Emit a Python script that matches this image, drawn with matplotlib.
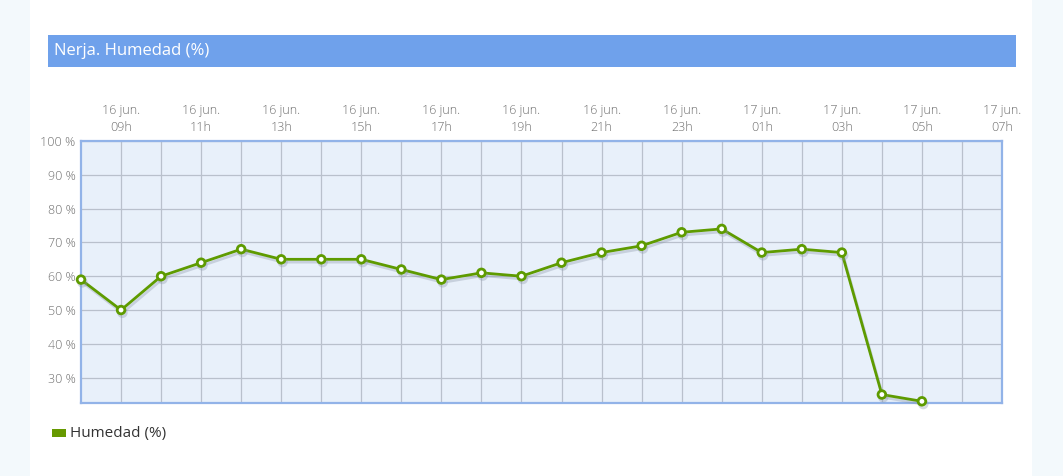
import matplotlib
matplotlib.use("Agg")
import matplotlib.pyplot as plt
import matplotlib.patheffects as pe
from matplotlib.patches import Rectangle
from matplotlib.ticker import FixedLocator

plt.rcParams['font.family'] = ['Open Sans', 'DejaVu Sans']

title = "Nerja. Humedad (%)"
series_name = "Humedad (%)"
hours = ["16 jun.\n08h", "16 jun.\n09h", "16 jun.\n10h", "16 jun.\n11h", "16 jun.\n12h",
         "16 jun.\n13h", "16 jun.\n14h", "16 jun.\n15h", "16 jun.\n16h", "16 jun.\n17h",
         "16 jun.\n18h", "16 jun.\n19h", "16 jun.\n20h", "16 jun.\n21h", "16 jun.\n22h",
         "16 jun.\n23h", "17 jun.\n00h", "17 jun.\n01h", "17 jun.\n02h", "17 jun.\n03h",
         "17 jun.\n04h", "17 jun.\n05h", "17 jun.\n06h", "17 jun.\n07h"]
humidity = [59, 50, 60, 64, 68, 65, 65, 65, 62, 59, 61, 60, 64, 67, 69, 73, 74, 67, 68, 67, 25, 23]
y_ticks = [30, 40, 50, 60, 70, 80, 90, 100]

W, H = 1063, 476
fig = plt.figure(figsize=(W / 100, H / 100), dpi=100)
fig.patch.set_facecolor("white")

# faint decorative edges
fig.patches.append(Rectangle((0, 0), 30 / W, 1, transform=fig.transFigure,
                             facecolor="#f3f9fc", edgecolor="none", zorder=0))
fig.patches.append(Rectangle((1032 / W, 0), 31 / W, 1, transform=fig.transFigure,
                             facecolor="#f3f9fc", edgecolor="none", zorder=0))

# title bar
fig.patches.append(Rectangle((48 / W, 1 - 67 / H), (1016 - 48) / W, 32 / H,
                             transform=fig.transFigure, facecolor="#6fa1eb",
                             edgecolor="none", zorder=1))
fig.text(54 / W, 1 - 51 / H, title, color="white", fontsize=12,
         va="center", ha="left")

ax = fig.add_axes([81 / W, 73 / H, (1002 - 81) / W, (403 - 141) / H])
ax.set_facecolor("#e8f0fa")

x = list(range(len(humidity)))
ax.plot(x, humidity, color="#5e9b00", lw=2, marker="o", markersize=5.5,
        markerfacecolor="white", markeredgecolor="#5e9b00", markeredgewidth=2,
        zorder=5, clip_on=False,
        path_effects=[pe.SimpleLineShadow(offset=(1, -2), shadow_color="#8a96a8", alpha=0.35),
                      pe.Normal()])

ax.set_xlim(0, len(hours) - 1)
ax.set_ylim(22.5, 100)

major_idx = list(range(1, len(hours), 2))
minor_idx = list(range(2, len(hours) - 1, 2))
ax.xaxis.set_major_locator(FixedLocator(major_idx))
ax.xaxis.set_minor_locator(FixedLocator(minor_idx))
ax.set_xticklabels([hours[i] for i in major_idx])
ax.xaxis.tick_top()
ax.tick_params(axis="x", which="both", length=0, pad=5, labelsize=9, labelcolor="#707070")
for lbl in ax.get_xticklabels():
    lbl.set_linespacing(1.45)
    lbl.set_fontweight("light")

ax.set_yticks(y_ticks)
ax.set_yticklabels([f"{v} %" for v in y_ticks])
ax.tick_params(axis="y", length=0, pad=4, labelsize=9, labelcolor="#707070")
for lbl in ax.get_yticklabels():
    lbl.set_fontweight("light")

ax.grid(True, which="both", color="#b9c0cc", lw=0.9)
ax.set_axisbelow(True)
for s in ax.spines.values():
    s.set_color("#92b3e8")
    s.set_linewidth(1.6)

# legend
fig.patches.append(Rectangle((52 / W, 1 - 437 / H), 14 / W, 8 / H,
                             transform=fig.transFigure, facecolor="#669900",
                             edgecolor="none"))
fig.text(70 / W, 1 - 433 / H, series_name, color="#333333", fontsize=11,
         va="center", ha="left")

fig.savefig("out.png", dpi=100, facecolor=fig.get_facecolor())
